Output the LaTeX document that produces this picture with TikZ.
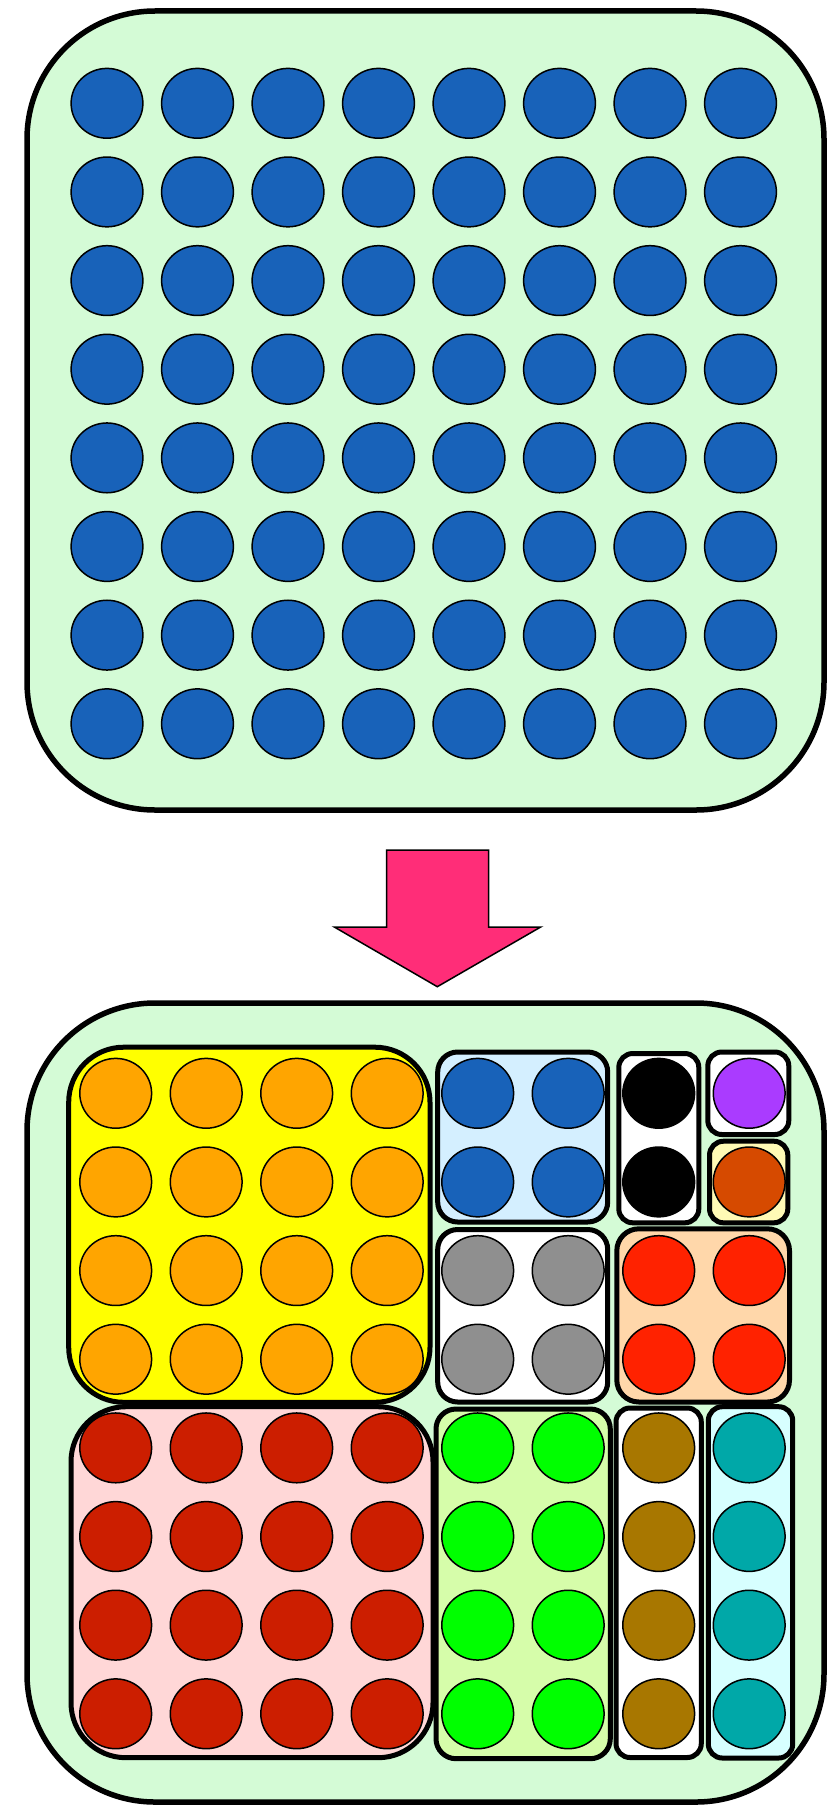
\documentclass[tikz,border=0pt]{standalone}
\usetikzlibrary{shapes.geometric}
\definecolor{bg}{HTML}{D4FBD6}
\definecolor{dblue}{HTML}{1862B9}
\definecolor{arrowpink}{HTML}{FF2D78}
\definecolor{yel}{HTML}{FFFF00}
\definecolor{org}{HTML}{FFA500}
\definecolor{pinkbox}{HTML}{FFD7D7}
\definecolor{dred}{HTML}{CC1E00}
\definecolor{lblue}{HTML}{D4EFFF}
\definecolor{gry}{HTML}{8F8F8F}
\definecolor{purp}{HTML}{AA3BFF}
\definecolor{lyel}{HTML}{FFFAB5}
\definecolor{dorg}{HTML}{D64A00}
\definecolor{peach}{HTML}{FFD7AA}
\definecolor{bred}{HTML}{FF2200}
\definecolor{lgreen}{HTML}{D6FDAA}
\definecolor{bgreen}{HTML}{00FF00}
\definecolor{brownish}{HTML}{A87700}
\definecolor{lcyan}{HTML}{D7FFFF}
\definecolor{tealish}{HTML}{00A8A8}
\newcommand{\dotat}[3]{\node[dot, fill=#3] (b#1#2) at ({115.7+90.5*#1},{1093.3+88.64*#2}) {};}
\begin{document}
\begin{tikzpicture}[x=1pt,y=-1pt,
  dot/.style={ellipse, draw=black, line width=1.5pt, minimum width=71.8pt, minimum height=69.8pt, inner sep=0pt},
  outerbox/.style={draw=black, line width=5.5pt, fill=bg, rounded corners=128pt},
  tray/.style={draw=black, line width=5pt, rounded corners=#1},
]
\useasboundingbox (0,0) rectangle (829,1809);
% top container
\draw[outerbox] (27,11) rectangle (824,810);
\foreach \i in {0,...,7}{
  \foreach \j in {0,...,7}{
    \node[dot, fill=dblue] (t\i\j) at ({107+90.5*\i},{103.3+88.64*\j}) {};
  }
}
% arrow
\draw[line width=1.5pt, fill=arrowpink, line join=miter]
  (386.7,850) -- (488.7,850) -- (488.7,927) -- (540.7,927) -- (437.3,986.7)
  -- (334.3,927) -- (386.7,927) -- cycle;
% bottom container
\draw[outerbox] (27,1003) rectangle (824,1802);
% trays
\draw[tray=55pt, fill=yel] (68.7,1047.2) rectangle (430,1402.3);
\draw[tray=55pt, fill=pinkbox] (71,1406.7) rectangle (433,1757.7);
\draw[tray=20pt, fill=lblue] (437.7,1052) rectangle (607.7,1222);
\draw[tray=20pt, fill=white] (437.7,1229.5) rectangle (607.7,1402);
\draw[tray=14pt, fill=white] (618.8,1053.5) rectangle (698.8,1222.8);
\draw[tray=14pt, fill=white] (707.8,1052) rectangle (788.8,1134.5);
\draw[tray=14pt, fill=lyel] (709.5,1141.2) rectangle (787.8,1222.8);
\draw[tray=22pt, fill=peach] (616.8,1228.8) rectangle (789.5,1402);
\draw[tray=20pt, fill=lgreen] (436,1409) rectangle (610.3,1758.7);
\draw[tray=14pt, fill=white] (616,1408) rectangle (701.3,1757.5);
\draw[tray=14pt, fill=lcyan] (708.3,1406.7) rectangle (792.7,1758);
% bottom dots
\foreach \i in {0,...,3}{\foreach \j in {0,...,3}{\dotat{\i}{\j}{org}}}
\foreach \i in {0,...,3}{\foreach \j in {4,...,7}{\dotat{\i}{\j}{dred}}}
\foreach \i in {4,5}{\foreach \j in {0,1}{\dotat{\i}{\j}{dblue}}}
\foreach \i in {4,5}{\foreach \j in {2,3}{\dotat{\i}{\j}{gry}}}
\foreach \j in {0,1}{\dotat{6}{\j}{black}}
\dotat{7}{0}{purp}
\dotat{7}{1}{dorg}
\foreach \i in {6,7}{\foreach \j in {2,3}{\dotat{\i}{\j}{bred}}}
\foreach \i in {4,5}{\foreach \j in {4,...,7}{\dotat{\i}{\j}{bgreen}}}
\foreach \j in {4,...,7}{\dotat{6}{\j}{brownish}}
\foreach \j in {4,...,7}{\dotat{7}{\j}{tealish}}
\end{tikzpicture}
\end{document}
